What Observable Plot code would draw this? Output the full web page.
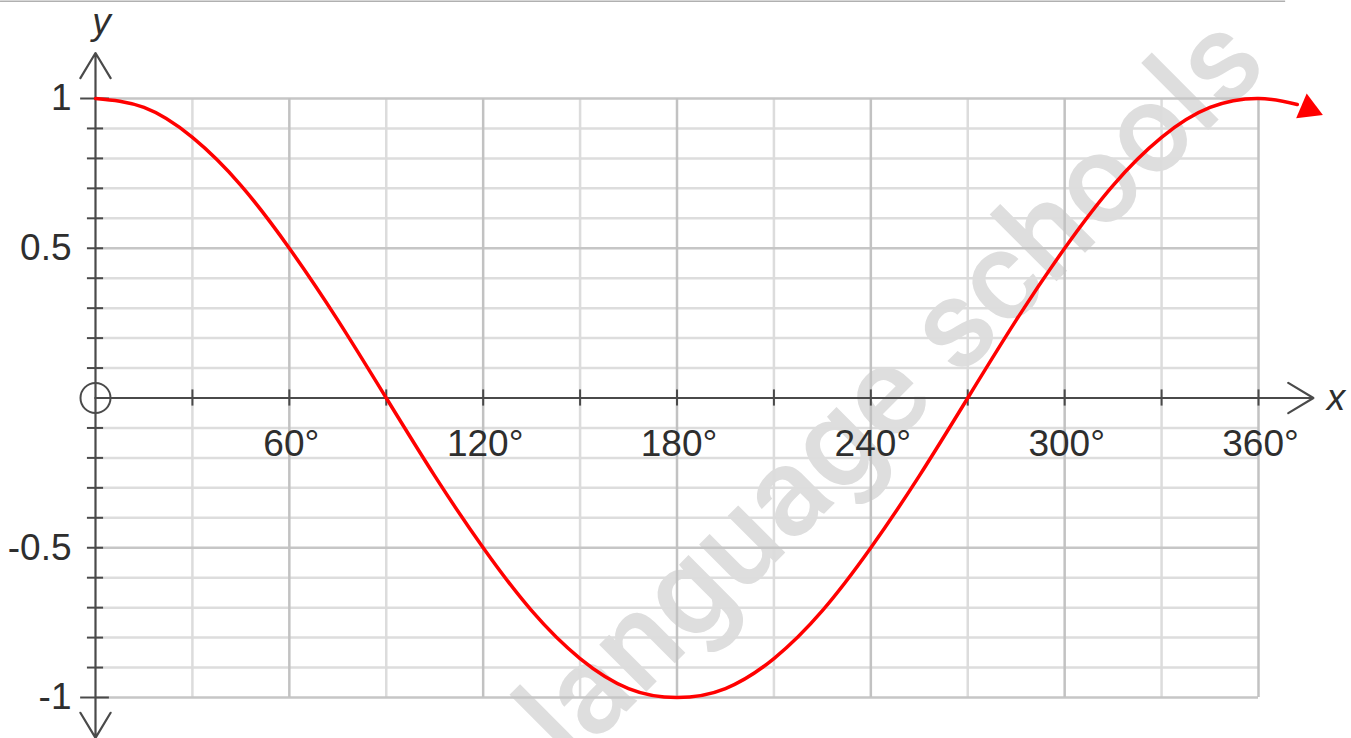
<!DOCTYPE html>
<html>
<head>
<meta charset="utf-8">
<script src="https://cdn.jsdelivr.net/npm/d3@7"></script>
<script src="https://cdn.jsdelivr.net/npm/@observablehq/plot@0.6"></script>
<style>
  html, body { margin: 0; padding: 0; background: #fff; }
  #chart svg { display: block; }
</style>
</head>
<body>
<div id="chart"></div>
<script>
// Curve samples (angle in degrees, y value)
const angles    = [0, 15, 30, 45, 60, 75, 90, 105, 120, 135, 150, 165, 180, 195, 210, 225, 240, 255, 270, 285, 300, 315, 330, 345, 360, 372];
const curveVals = [1, 0.97, 0.87, 0.71, 0.5, 0.26, 0, -0.26, -0.5, -0.71, -0.87, -0.97, -1, -0.97, -0.87, -0.71, -0.5, -0.26, 0, 0.26, 0.5, 0.71, 0.87, 0.97, 1, 0.98];
// Arrow head at end of curve
const arrowHeadX = [375.5];
const arrowHeadY = [0.965];

// Grid
const gridMinorX = [30, 90, 150, 210, 270, 330];
const gridMajorX = [60, 120, 180, 240, 300, 360];
const gridMinorY = [0.9, 0.8, 0.7, 0.6, 0.4, 0.3, 0.2, 0.1, -0.1, -0.2, -0.3, -0.4, -0.6, -0.7, -0.8, -0.9];
const gridMajorY = [1, 0.5, -0.5, -1];

// Tick labels
const xTickValues = [60, 120, 180, 240, 300, 360];
const xTickLabels = ["60°", "120°", "180°", "240°", "300°", "360°"];
const yTickValues = [1, 0.5, -0.5, -1];
const yTickLabels = ["1", "0.5", "-0.5", "-1"];
const xAxisTicks = [30, 60, 90, 120, 150, 180, 210, 240, 270, 300, 330, 360];
const yAxisTicks = [0.9, 0.8, 0.7, 0.6, 0.5, 0.4, 0.3, 0.2, 0.1, -0.1, -0.2, -0.3, -0.4, -0.5, -0.6, -0.7, -0.8, -0.9];
const yAxisEndTicks = [1, -1];

const curve = angles.map((a, i) => ({x: a, y: curveVals[i]}));
const head = arrowHeadX.map((a, i) => ({x: a, y: arrowHeadY[i]}));

const font = "'Liberation Sans', Arial, sans-serif";
const axisColor = "#4a4a4a";
const labelColor = "#2e2e2e";

const chart = Plot.plot({
  width: 1351,
  height: 738,
  marginLeft: 95,
  marginRight: 93,
  marginTop: 98,
  marginBottom: 41,
  style: {fontFamily: font, background: "#fff", overflow: "visible"},
  x: {domain: [0, 360], axis: null},
  y: {domain: [-1, 1], axis: null},
  marks: [
    // top border line
    Plot.ruleY([1.325], {x1: -29.4, x2: 368.4, stroke: "#b0b0b0", strokeWidth: 1.5}),
    // watermark
    Plot.text(["language schools"], {x: 246.5, y: 0.03, text: d => d, rotate: -45, fontSize: 126, fontFamily: "Roboto, sans-serif", fontWeight: 500, fill: "#dedede", textAnchor: "middle", lineAnchor: "middle"}),
    // grid
    Plot.ruleY(gridMinorY, {x1: 0, x2: 360, stroke: "#dddddd", strokeWidth: 2.5}),
    Plot.ruleX(gridMinorX, {y1: -1, y2: 1, stroke: "#dcdcdc", strokeWidth: 2.5}),
    Plot.ruleY(gridMajorY, {x1: 0, x2: 360, stroke: "#c6c6c6", strokeWidth: 2.5}),
    Plot.ruleX(gridMajorX, {y1: -1, y2: 1, stroke: "#c2c2c2", strokeWidth: 2.5}),
    // axes with open arrow heads
    Plot.arrow([{x1: 0, y1: 0, x2: 0, y2: 1.152}], {x1: "x1", y1: "y1", x2: "x2", y2: "y2", stroke: axisColor, strokeWidth: 2.2, headLength: 20, headAngle: 62}),
    Plot.arrow([{x1: 0, y1: 0, x2: 0, y2: -1.135}], {x1: "x1", y1: "y1", x2: "x2", y2: "y2", stroke: axisColor, strokeWidth: 2.2, headLength: 20, headAngle: 62}),
    Plot.arrow([{x1: 0, y1: 0, x2: 377, y2: 0}], {x1: "x1", y1: "y1", x2: "x2", y2: "y2", stroke: axisColor, strokeWidth: 2.2, headLength: 20, headAngle: 62}),
    // axis ticks
    Plot.ruleX(xAxisTicks, {y1: -0.027, y2: 0.027, stroke: axisColor, strokeWidth: 2}),
    Plot.ruleY(yAxisTicks, {x1: -2.5, x2: 2.5, stroke: axisColor, strokeWidth: 2}),
    Plot.ruleY(yAxisEndTicks, {x1: -4.6, x2: 4.3, stroke: axisColor, strokeWidth: 2}),
    // origin circle
    Plot.dot([{x: 0, y: 0}], {x: "x", y: "y", r: 15, stroke: axisColor, strokeWidth: 2, fill: "none"}),
    // tick labels
    Plot.axisY(yTickValues, {tickFormat: (d, i) => yTickLabels[i], tickSize: 0, tickPadding: 24, fontSize: 37, fill: labelColor, anchor: "left"}),
    Plot.text(xTickValues, {x: d => d, y: 0, text: (d, i) => xTickLabels[i], dy: 46, dx: 2, fontSize: 37, fill: labelColor, textAnchor: "middle"}),
    // axis names
    Plot.text(["y"], {x: 0, y: 1.254, text: d => d, dx: 6, fontSize: 37, fontStyle: "italic", fill: labelColor}),
    Plot.text(["x"], {x: 384, y: 0, text: d => d, dx: 0, fontSize: 37, fontStyle: "italic", fill: labelColor}),
    // red cosine curve
    Plot.line(curve, {x: "x", y: "y", stroke: "#ff0000", strokeWidth: 3.5, curve: "natural"}),
    Plot.dot(head, {x: "x", y: "y", symbol: "triangle", r: 10, fill: "#ff0000", stroke: "none", rotate: 113})
  ]
});
document.getElementById("chart").appendChild(chart);
</script>
</body>
</html>
